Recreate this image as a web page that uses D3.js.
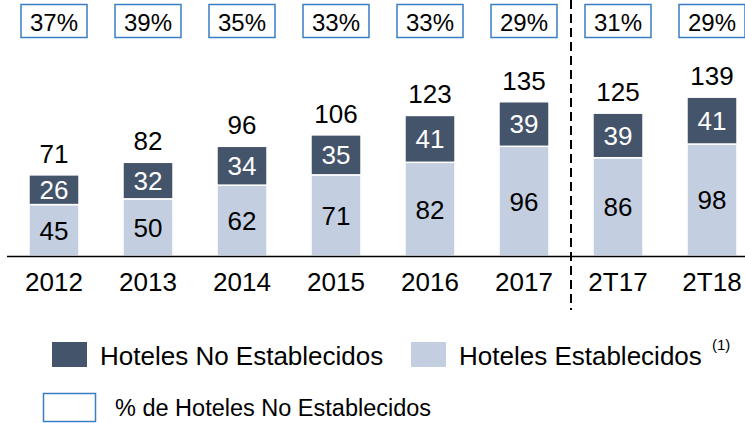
<!DOCTYPE html>
<html>
<head>
<meta charset="utf-8">
<script src="https://cdn.jsdelivr.net/npm/d3@7"></script>
<style>
  body { margin: 0; background: #fff; }
  svg { font-family: "Liberation Sans", Arial, sans-serif; }
</style>
</head>
<body>
<svg id="chart"></svg>
<script>
const categories = ["2012", "2013", "2014", "2015", "2016", "2017", "2T17", "2T18"];
const establecidos = [45, 50, 62, 71, 82, 96, 86, 98];
const noEstablecidos = [26, 32, 34, 35, 41, 39, 39, 41];
const totals = [71, 82, 96, 106, 123, 135, 125, 139];
const pctNoEst = ["37%", "39%", "35%", "33%", "33%", "29%", "31%", "29%"];

const width = 745;
const height = 423;
const baseline = 256;
const darkColor = "#44546a";
const lightColor = "#c3cee0";
const boxColor = "#3a7dc2";
const fs = 26;

const svg = d3.select("#chart")
    .attr("width", width)
    .attr("height", height);

const x = d3.scaleBand()
    .domain(categories)
    .range([7, 759])
    .paddingInner(0.468)
    .paddingOuter(0.234);

const y = d3.scaleLinear()
    .domain([0, 150])
    .range([baseline, baseline - 171.4]);

const data = categories.map((c, i) => ({
    cat: c,
    est: establecidos[i],
    noEst: noEstablecidos[i],
    total: totals[i],
    pct: pctNoEst[i]
}));

const cx = d => x(d.cat) + x.bandwidth() / 2;

// light segment (bottom)
svg.selectAll(".est")
    .data(data)
    .enter()
    .append("rect")
    .attr("class", "est")
    .attr("x", d => x(d.cat))
    .attr("y", d => y(d.est))
    .attr("width", x.bandwidth())
    .attr("height", d => y(0) - y(d.est))
    .attr("fill", lightColor)
    .attr("stroke", "#fff")
    .attr("stroke-width", 1.5);

// dark segment (top)
svg.selectAll(".noest")
    .data(data)
    .enter()
    .append("rect")
    .attr("class", "noest")
    .attr("x", d => x(d.cat))
    .attr("y", d => y(d.est + d.noEst))
    .attr("width", x.bandwidth())
    .attr("height", d => y(d.est) - y(d.est + d.noEst))
    .attr("fill", darkColor)
    .attr("stroke", "#fff")
    .attr("stroke-width", 1.5);

// labels inside segments
svg.selectAll(".estLabel")
    .data(data)
    .enter()
    .append("text")
    .attr("x", cx)
    .attr("y", d => (y(0) + y(d.est)) / 2)
    .attr("dy", "0.36em")
    .attr("text-anchor", "middle")
    .attr("font-size", fs)
    .attr("fill", "#000")
    .text(d => d.est);

svg.selectAll(".noEstLabel")
    .data(data)
    .enter()
    .append("text")
    .attr("x", cx)
    .attr("y", d => (y(d.est) + y(d.est + d.noEst)) / 2)
    .attr("dy", "0.36em")
    .attr("text-anchor", "middle")
    .attr("font-size", fs)
    .attr("fill", "#fff")
    .text(d => d.noEst);

// totals above bars
svg.selectAll(".totalLabel")
    .data(data)
    .enter()
    .append("text")
    .attr("x", cx)
    .attr("y", d => y(d.est + d.noEst) - 12)
    .attr("text-anchor", "middle")
    .attr("font-size", fs)
    .attr("fill", "#000")
    .text(d => d.total);

// baseline
svg.append("line")
    .attr("x1", 7)
    .attr("x2", width)
    .attr("y1", baseline + 0.5)
    .attr("y2", baseline + 0.5)
    .attr("stroke", "#000")
    .attr("stroke-width", 1.6);

// category labels
svg.selectAll(".catLabel")
    .data(data)
    .enter()
    .append("text")
    .attr("x", cx)
    .attr("y", 291)
    .attr("text-anchor", "middle")
    .attr("font-size", fs)
    .attr("fill", "#000")
    .text(d => d.cat);

// percentage boxes
const boxes = svg.selectAll(".pct")
    .data(data)
    .enter()
    .append("g")
    .attr("transform", d => `translate(${cx(d)}, 0)`);

boxes.append("rect")
    .attr("x", -33)
    .attr("y", 4.5)
    .attr("width", 66)
    .attr("height", 33)
    .attr("fill", "#fff")
    .attr("stroke", boxColor)
    .attr("stroke-width", 1.5);

boxes.append("text")
    .attr("y", 31)
    .attr("text-anchor", "middle")
    .attr("font-size", 24)
    .attr("fill", "#000")
    .text(d => d.pct);

// dashed separator between years and quarters
const sepX = (x("2017") + x.bandwidth() + x("2T17")) / 2;
svg.append("line")
    .attr("x1", sepX)
    .attr("x2", sepX)
    .attr("y1", 0)
    .attr("y2", 310)
    .attr("stroke", "#000")
    .attr("stroke-width", 2)
    .attr("stroke-dasharray", "9,5");

// legend
const legend = svg.append("g");

legend.append("rect")
    .attr("x", 52).attr("y", 342)
    .attr("width", 35).attr("height", 25)
    .attr("fill", darkColor);
legend.append("text")
    .attr("x", 100).attr("y", 365)
    .attr("font-size", fs)
    .text("Hoteles No Establecidos");

legend.append("rect")
    .attr("x", 411).attr("y", 342)
    .attr("width", 35).attr("height", 25)
    .attr("fill", lightColor);
legend.append("text")
    .attr("x", 459).attr("y", 365)
    .attr("font-size", fs)
    .text("Hoteles Establecidos");
legend.append("text")
    .attr("x", 712).attr("y", 350)
    .attr("font-size", 15)
    .text("(1)");

legend.append("rect")
    .attr("x", 43.5).attr("y", 393.5)
    .attr("width", 52).attr("height", 28)
    .attr("fill", "#fff")
    .attr("stroke", boxColor)
    .attr("stroke-width", 1.5);
legend.append("text")
    .attr("x", 115).attr("y", 416)
    .attr("font-size", 23.5)
    .text("% de Hoteles No Establecidos");
</script>
</body>
</html>
